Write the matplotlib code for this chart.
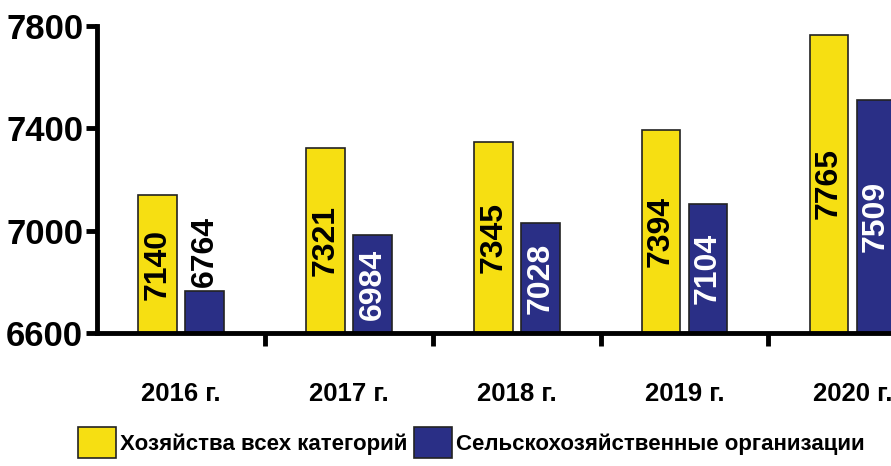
import numpy as np
import matplotlib.pyplot as plt
from matplotlib.patches import Patch

years = ['2016 г.', '2017 г.', '2018 г.', '2019 г.', '2020 г.']
all_farms = [7140, 7321, 7345, 7394, 7765]
agri_orgs = [6764, 6984, 7028, 7104, 7509]
series_names = ['Хозяйства всех категорий', 'Сельскохозяйственные организации']
yticks = [6600, 7000, 7400, 7800]

yellow = '#F6DF12'
navy = '#2A2F86'
font = ['Liberation Sans', 'DejaVu Sans']

fig = plt.figure(figsize=(8.91, 4.66), dpi=100)
ax = fig.add_axes([0.109, 0.285, 0.891, 0.66])

x = np.arange(len(years))
w = 0.23
off = 0.14
ax.bar(x - off, np.array(all_farms) - 6600, w, bottom=6600, color=yellow,
       edgecolor='#222222', linewidth=1.2)
ax.bar(x + off, np.array(agri_orgs) - 6600, w, bottom=6600, color=navy,
       edgecolor='#222222', linewidth=1.2)

# value labels, rotated inside the bars
for i in range(len(years)):
    ax.text(x[i] - off, (6600 + all_farms[i]) / 2, str(all_farms[i]), rotation=90,
            ha='center', va='center', fontsize=23, fontweight='bold',
            color='black', family=font)
    v = agri_orgs[i]
    if v - 6600 < 300:
        # too short, put it above the bar
        ax.text(x[i] + off, v + 15, str(v), rotation=90, ha='center', va='bottom',
                fontsize=23, fontweight='bold', color='black', family=font)
    else:
        ax.text(x[i] + off, (6600 + v) / 2, str(v), rotation=90, ha='center',
                va='center', fontsize=23, fontweight='bold', color='white',
                family=font)

ax.set_ylim(6600, 7800)
ax.set_xlim(-0.5, 4.23)
ax.set_yticks(yticks)
ax.set_yticklabels([str(t) for t in yticks], fontsize=25, fontweight='bold',
                   family=font)
ax.set_xticks(x)
ax.set_xticklabels(years, fontsize=18.5, fontweight='bold', family=font)
ax.set_xticks(x[:-1] + 0.5, minor=True)
ax.tick_params(axis='x', which='major', length=0, pad=35)
ax.tick_params(axis='x', which='minor', length=9, width=3.5, direction='out')
ax.tick_params(axis='y', length=8, width=3.5, direction='out', pad=2)

for s in ['top', 'right']:
    ax.spines[s].set_visible(False)
for s in ['left', 'bottom']:
    ax.spines[s].set_linewidth(3.5)

handles = [Patch(facecolor=yellow, edgecolor='#222222', linewidth=1.2),
           Patch(facecolor=navy, edgecolor='#222222', linewidth=1.2)]
fig.legend(handles, series_names, loc='center', bbox_to_anchor=(0.529, 0.05),
           ncol=2, frameon=False, handlelength=1.7, handleheight=1.8,
           handletextpad=0.2, columnspacing=0.3,
           prop={'family': font, 'size': 16, 'weight': 'bold'})

fig.savefig('out.png', dpi=100)
